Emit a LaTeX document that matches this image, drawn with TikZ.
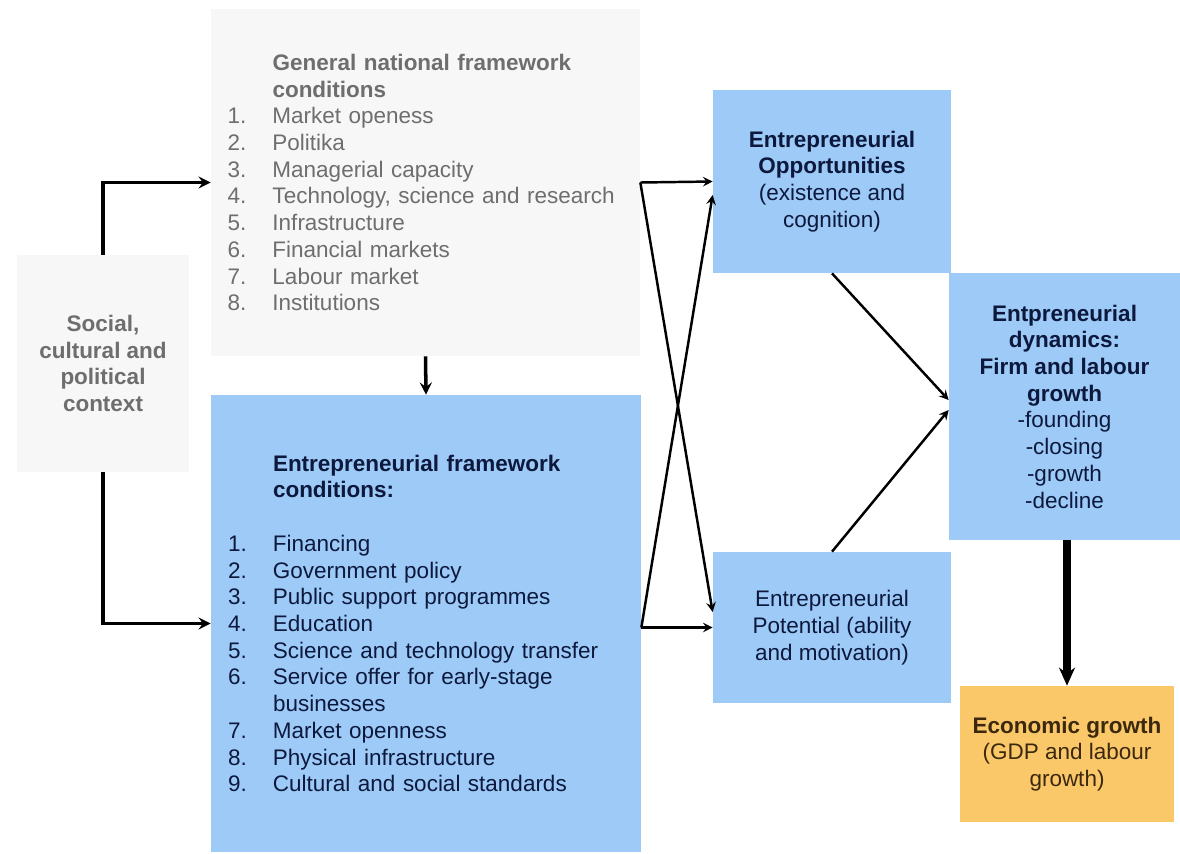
\documentclass[tikz,border=0pt]{standalone}
\usepackage{fontspec}
\setmainfont{Liberation Sans}
\usepackage{tikz}
\usetikzlibrary{calc}
\usetikzlibrary{positioning}
\usetikzlibrary{arrows.meta}
\definecolor{boxgray}{RGB}{247,247,247}
\definecolor{boxblue}{RGB}{158,202,248}
\definecolor{boxorange}{RGB}{250,200,105}
\definecolor{txtgray}{RGB}{110,110,110}
\definecolor{txtnavy}{RGB}{12,25,60}
\definecolor{txtbrown}{RGB}{60,40,15}
\tikzstyle{arrow}= [line width=1.4pt, ->, >=stealth]
\tikzstyle{ctxarrow}= [line width=2pt, ->, >=stealth]
\tikzstyle{bigarrow}= [line width=4pt, -{Stealth[length=3.6mm,width=3.2mm]}]
\newcommand{\itm}[2]{\makebox[0.9cm][l]{#1}{#2}}

\begin{document}
\begin{tikzpicture}[
    txt/.style={font=\fontsize{12.8}{15.2}\selectfont},
    graybox/.style={rectangle,fill=boxgray,txt,text=txtgray,inner sep=0pt},
    bluebox/.style={rectangle,fill=boxblue,txt,text=txtnavy,inner sep=0pt,align=center},
  ]
  \useasboundingbox (0,0) rectangle (23.6,-17.08);

  % boxes
  \node[graybox,minimum width=8.58cm,minimum height=6.94cm,text width=7.92cm,align=left] (gnf) at (8.51,-3.65) {%
    \itm{}{\bfseries General national framework}\\
    \itm{}{\bfseries conditions}\\
    \itm{1.}{Market openess}\\
    \itm{2.}{Politika}\\
    \itm{3.}{Managerial capacity}\\
    \itm{4.}{Technology, science and research}\\
    \itm{5.}{Infrastructure}\\
    \itm{6.}{Financial markets}\\
    \itm{7.}{Labour market}\\
    \itm{8.}{Institutions}};
  \node[graybox,minimum width=3.44cm,minimum height=4.34cm,align=center,font=\fontsize{12.8}{15.2}\selectfont\bfseries] (soc) at (2.06,-7.27) {Social,\\cultural and\\political\\context};
  \node[bluebox,minimum width=8.6cm,minimum height=9.14cm,text width=7.92cm,align=left] (efc) at (8.52,-12.47) {%
    \itm{}{\bfseries Entrepreneurial framework}\\
    \itm{}{\bfseries conditions:}\\[15.2pt]
    \itm{1.}{Financing}\\
    \itm{2.}{Government policy}\\
    \itm{3.}{Public support programmes}\\
    \itm{4.}{Education}\\
    \itm{5.}{Science and technology transfer}\\
    \itm{6.}{Service offer for early-stage}\\
    \itm{}{businesses}\\
    \itm{7.}{Market openness}\\
    \itm{8.}{Physical infrastructure}\\
    \itm{9.}{Cultural and social standards}};
  \node[bluebox,minimum width=4.76cm,minimum height=3.66cm] (opp) at (16.64,-3.63) {{\bfseries Entrepreneurial}\\{\bfseries Opportunities}\\(existence and\\cognition)};
  \node[bluebox,minimum width=4.76cm,minimum height=3.02cm] (pot) at (16.64,-12.55) {Entrepreneurial\\Potential (ability\\and motivation)};
  \node[bluebox,minimum width=4.62cm,minimum height=5.34cm] (dyn) at (21.29,-8.13) {{\bfseries Entpreneurial}\\{\bfseries dynamics:}\\{\bfseries Firm and labour}\\{\bfseries growth}\\-founding\\-closing\\-growth\\-decline};
  \node[bluebox,fill=boxorange,text=txtbrown,minimum width=4.28cm,minimum height=2.72cm] (eco) at (21.34,-15.08) {{\bfseries Economic growth}\\(GDP and labour\\growth)};

  % connectors
  \draw[ctxarrow] (soc.north) |- (gnf.west);
  \draw[ctxarrow] (soc.south) |- (efc.west);
  \draw[ctxarrow] (gnf.south) -- (efc.north);
  \coordinate (efcout) at (efc.east |- pot.west);
  \draw[arrow] (gnf.east) -- (opp.west);
  \draw[arrow] (gnf.east) -- ($(pot.west)+(0,0.31)$);
  \draw[arrow] (efcout) -- (pot.west);
  \draw[arrow] (efcout) -- ($(opp.west)+(0,-0.27)$);
  \draw[arrow] (opp.south) -- ($(dyn.west)+(0,0.13)$);
  \draw[arrow] (pot.north) -- ($(dyn.west)+(0,-0.07)$);
  \draw[bigarrow] (dyn.south -| eco.north) -- (eco.north);

\end{tikzpicture}
\end{document}
